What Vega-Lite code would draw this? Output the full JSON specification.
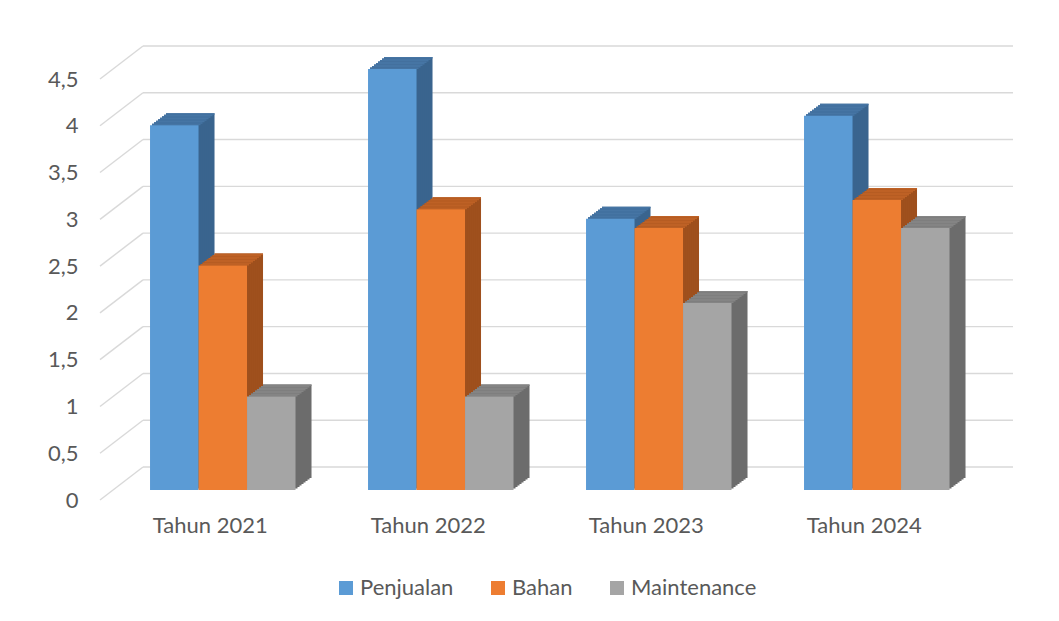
{
  "$schema": "https://vega.github.io/schema/vega-lite/v6.json",
  "width": 872,
  "height": 421,
  "autosize": {"type": "none"},
  "padding": {"left": 100, "top": 69, "right": 87, "bottom": 131},
  "background": "white",
  "config": {
    "view": {"stroke": null},
    "font": "Lato",
    "axis": {"grid": false, "domain": false, "ticks": false, "labelColor": "#595959", "labelFontSize": 22, "labelFont": "Lato"}
  },
  "data": {
    "values": [
      {"year": "Tahun 2021", "series": "Penjualan", "value": 3.9},
      {"year": "Tahun 2021", "series": "Bahan", "value": 2.4},
      {"year": "Tahun 2021", "series": "Maintenance", "value": 1.0},
      {"year": "Tahun 2022", "series": "Penjualan", "value": 4.5},
      {"year": "Tahun 2022", "series": "Bahan", "value": 3.0},
      {"year": "Tahun 2022", "series": "Maintenance", "value": 1.0},
      {"year": "Tahun 2023", "series": "Penjualan", "value": 2.9},
      {"year": "Tahun 2023", "series": "Bahan", "value": 2.8},
      {"year": "Tahun 2023", "series": "Maintenance", "value": 2.0},
      {"year": "Tahun 2024", "series": "Penjualan", "value": 4.0},
      {"year": "Tahun 2024", "series": "Bahan", "value": 3.1},
      {"year": "Tahun 2024", "series": "Maintenance", "value": 2.8}
    ]
  },
  "layer": [
    {
      "data": {"values": [{"t": 0}, {"t": 0.5}, {"t": 1}, {"t": 1.5}, {"t": 2}, {"t": 2.5}, {"t": 3}, {"t": 3.5}, {"t": 4}, {"t": 4.5}]},
      "mark": {"type": "rule", "color": "#D9D9D9", "strokeWidth": 1.4, "xOffset": 43, "x2Offset": 41, "yOffset": -23},
      "encoding": {
        "x": {"datum": 0, "type": "quantitative", "scale": {"domain": [0, 1]}, "axis": null},
        "x2": {"datum": 1},
        "y": {"field": "t", "type": "quantitative", "scale": {"domain": [0, 4.5], "nice": false}, "title": null}
      }
    },
    {
      "data": {"values": [{"t": 0}, {"t": 0.5}, {"t": 1}, {"t": 1.5}, {"t": 2}, {"t": 2.5}, {"t": 3}, {"t": 3.5}, {"t": 4}, {"t": 4.5}]},
      "mark": {"type": "rule", "color": "#D9D9D9", "strokeWidth": 1.4, "yOffset": 10, "y2Offset": -23, "x2Offset": 43},
      "encoding": {
        "x": {"datum": 0, "type": "quantitative", "scale": {"domain": [0, 1]}, "axis": null},
        "x2": {"datum": 0},
        "y": {"field": "t", "type": "quantitative", "scale": {"domain": [0, 4.5], "nice": false}, "title": null},
        "y2": {"field": "t"}
      }
    },
    {
      "encoding": {
        "x": {"field": "year", "type": "nominal", "scale": {"paddingInner": 0.3326, "paddingOuter": 0.1663, "align": 0.69}, "title": null, "axis": {"labelOffset": -12.5, "labelPadding": 25, "labelAngle": 0}},
        "y": {"field": "value", "type": "quantitative", "scale": {"domain": [0, 4.5], "nice": false}, "title": null, "axis": {"values": [0, 0.5, 1, 1.5, 2, 2.5, 3, 3.5, 4, 4.5], "labelPadding": 22, "labelOffset": 10, "labelExpr": "replace(toString(datum.value), '.', ',')"}}
      },
      "layer": [
        {"mark": {"type": "bar", "yOffset": -12, "y2Offset": -12},
         "encoding": {"xOffset": {"field": "series", "scale": {"domain": ["Penjualan", "Bahan", "Maintenance"], "range": [16, 161.49]}},
                      "color": {"field": "series", "scale": {"domain": ["Penjualan", "Bahan", "Maintenance"], "range": ["#3A648E", "#9F501D", "#6C6C6C"]}, "legend": null}}},
        {"mark": {"type": "bar", "yOffset": -10.5, "y2Offset": -10.5},
         "encoding": {"xOffset": {"field": "series", "scale": {"domain": ["Penjualan", "Bahan", "Maintenance"], "range": [14, 159.49]}},
                      "color": {"field": "series", "scale": {"domain": ["Penjualan", "Bahan", "Maintenance"], "range": ["#3A648E", "#9F501D", "#6C6C6C"]}, "legend": null}}},
        {"mark": {"type": "bar", "yOffset": -9, "y2Offset": -9},
         "encoding": {"xOffset": {"field": "series", "scale": {"domain": ["Penjualan", "Bahan", "Maintenance"], "range": [12, 157.49]}},
                      "color": {"field": "series", "scale": {"domain": ["Penjualan", "Bahan", "Maintenance"], "range": ["#3A648E", "#9F501D", "#6C6C6C"]}, "legend": null}}},
        {"mark": {"type": "bar", "yOffset": -7.5, "y2Offset": -7.5},
         "encoding": {"xOffset": {"field": "series", "scale": {"domain": ["Penjualan", "Bahan", "Maintenance"], "range": [10, 155.49]}},
                      "color": {"field": "series", "scale": {"domain": ["Penjualan", "Bahan", "Maintenance"], "range": ["#3A648E", "#9F501D", "#6C6C6C"]}, "legend": null}}},
        {"mark": {"type": "bar", "yOffset": -6, "y2Offset": -6},
         "encoding": {"xOffset": {"field": "series", "scale": {"domain": ["Penjualan", "Bahan", "Maintenance"], "range": [8, 153.49]}},
                      "color": {"field": "series", "scale": {"domain": ["Penjualan", "Bahan", "Maintenance"], "range": ["#3A648E", "#9F501D", "#6C6C6C"]}, "legend": null}}},
        {"mark": {"type": "bar", "yOffset": -4.5, "y2Offset": -4.5},
         "encoding": {"xOffset": {"field": "series", "scale": {"domain": ["Penjualan", "Bahan", "Maintenance"], "range": [6, 151.49]}},
                      "color": {"field": "series", "scale": {"domain": ["Penjualan", "Bahan", "Maintenance"], "range": ["#3A648E", "#9F501D", "#6C6C6C"]}, "legend": null}}},
        {"mark": {"type": "bar", "yOffset": -3, "y2Offset": -3},
         "encoding": {"xOffset": {"field": "series", "scale": {"domain": ["Penjualan", "Bahan", "Maintenance"], "range": [4, 149.49]}},
                      "color": {"field": "series", "scale": {"domain": ["Penjualan", "Bahan", "Maintenance"], "range": ["#3A648E", "#9F501D", "#6C6C6C"]}, "legend": null}}},
        {"mark": {"type": "bar", "yOffset": -1.5, "y2Offset": -1.5},
         "encoding": {"xOffset": {"field": "series", "scale": {"domain": ["Penjualan", "Bahan", "Maintenance"], "range": [2, 147.49]}},
                      "color": {"field": "series", "scale": {"domain": ["Penjualan", "Bahan", "Maintenance"], "range": ["#3A648E", "#9F501D", "#6C6C6C"]}, "legend": null}}},
        {"mark": {"type": "bar", "yOffset": -12, "y2Offset": -10.5},
         "encoding": {"y2": {"field": "value"}, "xOffset": {"field": "series", "scale": {"domain": ["Penjualan", "Bahan", "Maintenance"], "range": [16, 161.49]}},
                      "color": {"field": "series", "scale": {"domain": ["Penjualan", "Bahan", "Maintenance"], "range": ["#4675A4", "#BE6125", "#848484"]}, "legend": null}}},
        {"mark": {"type": "bar", "yOffset": -10.5, "y2Offset": -9},
         "encoding": {"y2": {"field": "value"}, "xOffset": {"field": "series", "scale": {"domain": ["Penjualan", "Bahan", "Maintenance"], "range": [14, 159.49]}},
                      "color": {"field": "series", "scale": {"domain": ["Penjualan", "Bahan", "Maintenance"], "range": ["#4675A4", "#BE6125", "#848484"]}, "legend": null}}},
        {"mark": {"type": "bar", "yOffset": -9, "y2Offset": -7.5},
         "encoding": {"y2": {"field": "value"}, "xOffset": {"field": "series", "scale": {"domain": ["Penjualan", "Bahan", "Maintenance"], "range": [12, 157.49]}},
                      "color": {"field": "series", "scale": {"domain": ["Penjualan", "Bahan", "Maintenance"], "range": ["#4675A4", "#BE6125", "#848484"]}, "legend": null}}},
        {"mark": {"type": "bar", "yOffset": -7.5, "y2Offset": -6},
         "encoding": {"y2": {"field": "value"}, "xOffset": {"field": "series", "scale": {"domain": ["Penjualan", "Bahan", "Maintenance"], "range": [10, 155.49]}},
                      "color": {"field": "series", "scale": {"domain": ["Penjualan", "Bahan", "Maintenance"], "range": ["#4675A4", "#BE6125", "#848484"]}, "legend": null}}},
        {"mark": {"type": "bar", "yOffset": -6, "y2Offset": -4.5},
         "encoding": {"y2": {"field": "value"}, "xOffset": {"field": "series", "scale": {"domain": ["Penjualan", "Bahan", "Maintenance"], "range": [8, 153.49]}},
                      "color": {"field": "series", "scale": {"domain": ["Penjualan", "Bahan", "Maintenance"], "range": ["#4675A4", "#BE6125", "#848484"]}, "legend": null}}},
        {"mark": {"type": "bar", "yOffset": -4.5, "y2Offset": -3},
         "encoding": {"y2": {"field": "value"}, "xOffset": {"field": "series", "scale": {"domain": ["Penjualan", "Bahan", "Maintenance"], "range": [6, 151.49]}},
                      "color": {"field": "series", "scale": {"domain": ["Penjualan", "Bahan", "Maintenance"], "range": ["#4675A4", "#BE6125", "#848484"]}, "legend": null}}},
        {"mark": {"type": "bar", "yOffset": -3, "y2Offset": -1.5},
         "encoding": {"y2": {"field": "value"}, "xOffset": {"field": "series", "scale": {"domain": ["Penjualan", "Bahan", "Maintenance"], "range": [4, 149.49]}},
                      "color": {"field": "series", "scale": {"domain": ["Penjualan", "Bahan", "Maintenance"], "range": ["#4675A4", "#BE6125", "#848484"]}, "legend": null}}},
        {"mark": {"type": "bar", "yOffset": -1.5, "y2Offset": 0},
         "encoding": {"y2": {"field": "value"}, "xOffset": {"field": "series", "scale": {"domain": ["Penjualan", "Bahan", "Maintenance"], "range": [2, 147.49]}},
                      "color": {"field": "series", "scale": {"domain": ["Penjualan", "Bahan", "Maintenance"], "range": ["#4675A4", "#BE6125", "#848484"]}, "legend": null}}},
        {"mark": {"type": "bar"},
         "encoding": {"xOffset": {"field": "series", "scale": {"domain": ["Penjualan", "Bahan", "Maintenance"], "range": [0, 145.49]}},
                      "color": {"field": "series", "scale": {"domain": ["Penjualan", "Bahan", "Maintenance"], "range": ["#5B9BD5", "#ED7D31", "#A5A5A5"]},
                                "legend": {"orient": "none", "legendX": 235, "legendY": 508, "direction": "horizontal", "title": null, "symbolType": "square", "symbolSize": 196, "symbolStrokeWidth": 0, "labelFontSize": 22, "labelFont": "Lato", "labelColor": "#595959", "labelOffset": 3, "columnPadding": 33, "padding": 0}}}}
      ],
      "resolve": {"scale": {"xOffset": "independent", "color": "independent"}}
    }
  ],
  "resolve": {"scale": {"x": "independent"}}
}
